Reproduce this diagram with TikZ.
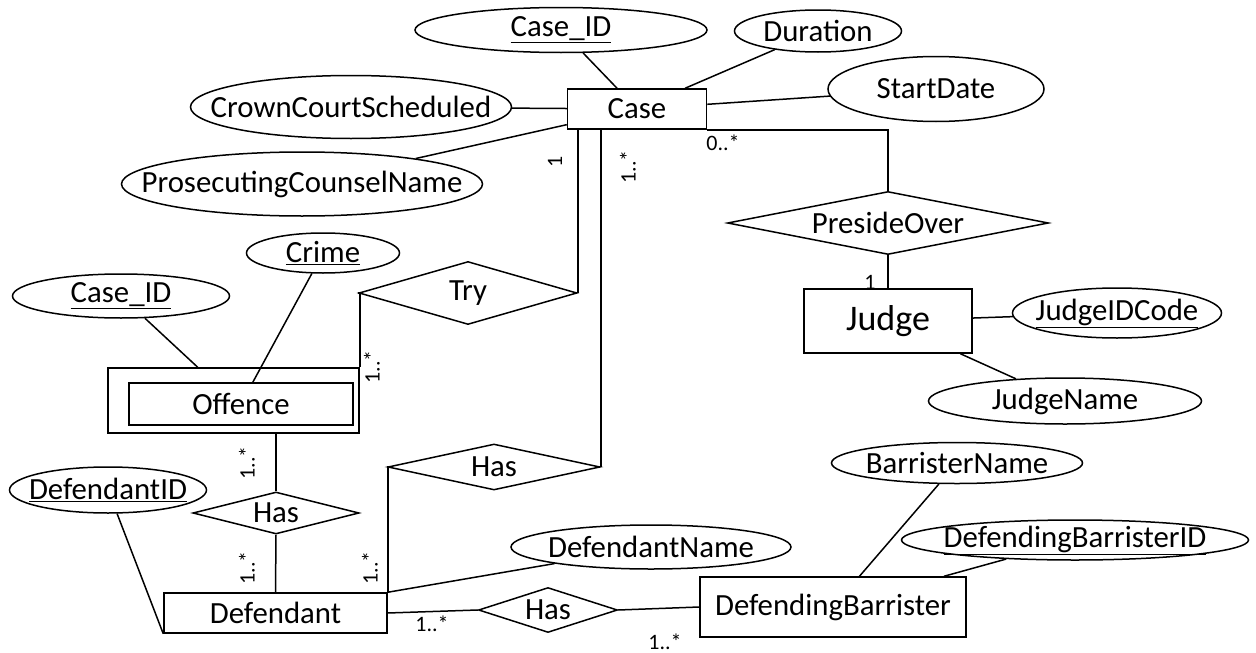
\documentclass[tikz,border=0pt]{standalone}
\usepackage{fontspec}
\setmainfont{Carlito}
\usetikzlibrary{shapes.geometric}

\begin{document}
\begin{tikzpicture}[
    x=1pt, y=-1pt,
    line width=1.5pt,
    entity/.style={draw, rectangle, inner sep=0pt, font=\fontsize{30.8}{36}\selectfont},
    attr/.style={draw, ellipse, inner sep=-3cm, font=\fontsize{30.8}{36}\selectfont},
    rel/.style={draw, diamond, inner sep=-3cm, font=\fontsize{30.8}{36}\selectfont},
    card/.style={inner sep=0pt, font=\fontsize{22}{26}\selectfont}
]
\useasboundingbox (0,0) rectangle (1256,653);

% entities
\node[entity, minimum width=139, minimum height=40] (case) at (637,109) {Case};
\node[entity, minimum width=168, minimum height=64, font=\fontsize{36}{42}\selectfont] (judge) at (888,321) {Judge};
\node[entity, minimum width=251, minimum height=65] (offence) at (233.5,400.5) {};
\node[entity, minimum width=224, minimum height=42] (offin) at (241,404) {Offence};
\node[entity, minimum width=223, minimum height=40] (defendant) at (275.5,613) {Defendant};
\node[entity, minimum width=266, minimum height=60] (barrister) at (833,607) {DefendingBarrister};

% attributes
\node[attr, minimum width=292, minimum height=45] (caseid) at (561,30) {\underline{Case\_ID}};
\node[attr, minimum width=167, minimum height=42] (duration) at (818,31) {Duration};
\node[attr, minimum width=216, minimum height=65] (startdate) at (936,89) {StartDate};
\node[attr, minimum width=321, minimum height=63] (crown) at (351,107) {CrownCourtScheduled};
\node[attr, minimum width=361, minimum height=64] (counsel) at (302,184) {ProsecutingCounselName};
\node[attr, minimum width=209, minimum height=50] (judgeid) at (1117,313) {\underline{JudgeIDCode}};
\node[attr, minimum width=273, minimum height=46] (judgename) at (1065,401) {JudgeName};
\node[attr, minimum width=153, minimum height=40] (crime) at (323,253) {\underline{Crime}};
\node[attr, minimum width=217, minimum height=44] (offid) at (121,296) {\underline{Case\_ID}};
\node[attr, minimum width=197, minimum height=46] (defid) at (108,490) {\underline{DefendantID}};
\node[attr, minimum width=280, minimum height=44] (defname) at (651,547) {DefendantName};
\node[attr, minimum width=251, minimum height=41] (bname) at (957,463) {BarristerName};
\node[attr, minimum width=347, minimum height=40] (bid) at (1075,540) {\underline{DefendingBarristerID}};

% relationships
\node[rel, minimum width=321, minimum height=63] (preside) at (888,223) {PresideOver};
\node[rel, minimum width=218, minimum height=63] (try) at (468,293) {Try};
\node[rel, minimum width=166, minimum height=42] (hasoff) at (276,513) {Has};
\node[rel, minimum width=212, minimum height=46] (hascase) at (494,467) {Has};
\node[rel, minimum width=139, minimum height=45] (hasbar) at (548,610) {Has};

% attribute links
\draw (caseid) -- (case);
\draw (duration) -- (case);
\draw (startdate) -- (case);
\draw (crown) -- (case);
\draw (counsel) -- (case);
\draw (judge) -- (judgeid);
\draw (judge) -- (judgename);
\draw (offid) -- (offence);
\draw (crime) -- (offin);
\draw (defid) -- (defendant.south west);
\draw (defname) -- (defendant.north east);
\draw (bname) -- (barrister);
\draw (bid) -- (barrister);

% relationship links
\draw (case.south east) -| (preside.north);
\draw (preside.south) -- (judge.north);
\draw (try.east) -- (try.east |- case.south);
\draw (offence.north east) |- (try.west);
\draw (hascase.east) -- (hascase.east |- case.south);
\draw (defendant.north east) |- (hascase.west);
\draw (hasoff.north) -- (hasoff.north |- offence.south);
\draw (hasoff.south) -- (defendant.north);
\draw (defendant.east) -- (hasbar.west);
\draw (hasbar.east) -- (barrister.west);

% cardinalities
\node[card, rotate=90] (c1) at (555,162) {1};
\node[card, rotate=90] (c2) at (628,167) {1..*};
\node[card] (c3) at (723,143) {0..*};
\node[card] (c4) at (870,282) {1};
\node[card, rotate=90] (c5) at (372,367) {1..*};
\node[card, rotate=90] (c6) at (247,463) {1..*};
\node[card, rotate=90] (c7) at (247,568) {1..*};
\node[card, rotate=90] (c8) at (370,568) {1..*};
\node[card] (c9) at (432,624) {1..*};
\node[card] (c10) at (665,642) {1..*};
\end{tikzpicture}
\end{document}
